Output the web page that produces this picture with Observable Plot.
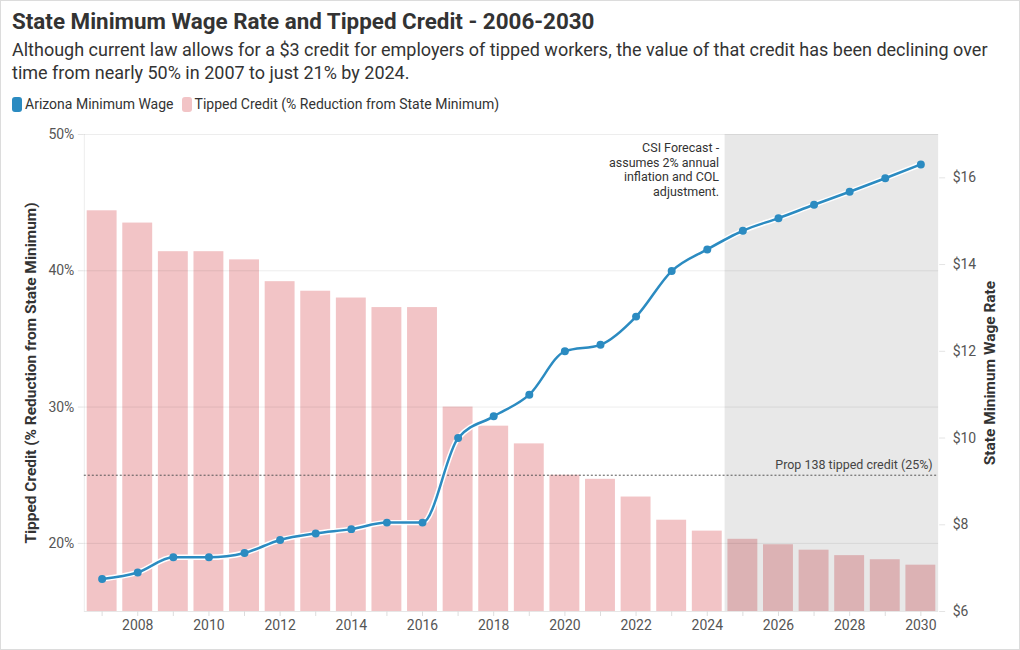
<!DOCTYPE html>
<html>
<head>
<meta charset="utf-8">
<script src="https://cdn.jsdelivr.net/npm/d3@7"></script>
<script src="https://cdn.jsdelivr.net/npm/@observablehq/plot@0.6"></script>
<style>
  html, body { margin: 0; padding: 0; background: #fff; }
  body { font-family: Roboto, "Noto Sans", sans-serif; }
  #frame { position: relative; width: 1018px; height: 648px; border: 1px solid #dcdcdc; overflow: hidden; }
  #title { position: absolute; left: 11px; top: 7px; font-size: 22.4px; font-weight: 700; color: #333; white-space: nowrap; }
  #subtitle { position: absolute; left: 11px; top: 37px; font-size: 18px; line-height: 23px; color: #333; white-space: nowrap; }
  #legend { position: absolute; left: 11px; top: 95px; font-size: 14px; color: #333; display: flex; align-items: center; white-space: nowrap; }
  .sw { display: inline-block; width: 10px; height: 15px; border-radius: 3px; margin-right: 3px; }
  .item { display: inline-flex; align-items: center; margin-right: 8px; }
  #chart { position: absolute; left: 0; top: 118px; }
</style>
</head>
<body>
<div id="frame">
  <div id="title">State Minimum Wage Rate and Tipped Credit - 2006-2030</div>
  <div id="subtitle">Although current law allows for a $3 credit for employers of tipped workers, the value of that credit has been declining over<br>time from nearly 50% in 2007 to just 21% by 2024.</div>
  <div id="legend">
    <span class="item"><span class="sw" style="background:#2b8bc1"></span>Arizona Minimum Wage</span>
    <span class="item"><span class="sw" style="background:#f2c4c6"></span>Tipped Credit (% Reduction from State Minimum)</span>
  </div>
  <div id="chart"></div>
</div>
<script>
const years = [2007,2008,2009,2010,2011,2012,2013,2014,2015,2016,2017,2018,2019,2020,2021,2022,2023,2024,2025,2026,2027,2028,2029,2030];
const minimumWage = [6.75,6.90,7.25,7.25,7.35,7.65,7.80,7.90,8.05,8.05,10.00,10.50,11.00,12.00,12.15,12.80,13.85,14.35,14.78,15.07,15.38,15.68,15.99,16.31];
const tippedCredit = [44.4,43.5,41.4,41.4,40.8,39.2,38.5,38.0,37.3,37.3,30.0,28.6,27.3,25.0,24.7,23.4,21.7,20.9,20.3,19.9,19.5,19.1,18.8,18.4];
const pctTicks = [20,30,40,50];
const wageTicks = [6,8,10,12,14,16];
const evenYears = [2008,2010,2012,2014,2016,2018,2020,2022,2024,2026,2028,2030];
const prop138 = 25;
const forecastStart = 2024.5;
const forecastNote = "CSI Forecast -\nassumes 2% annual\ninflation and COL\nadjustment.";
const prop138Label = "Prop 138 tipped credit (25%)";

const P0 = 15, P1 = 50, W0 = 6, W1 = 17;
const toP = w => P0 + (w - W0) * (P1 - P0) / (W1 - W0);
const toW = p => W0 + (p - P0) * (W1 - W0) / (P1 - P0);

const data = years.map((y, i) => ({year: y, wage: minimumWage[i], credit: tippedCredit[i]}));
const X0 = 2006.5, X1 = 2030.5;
const blue = "#2b8bc1", pink = "#f2c4c6", tickCol = "#555";

const chart = Plot.plot({
  width: 1020,
  height: 523,
  marginTop: 15,
  marginBottom: 30,
  marginLeft: 83,
  marginRight: 81,
  style: {fontFamily: "Roboto, sans-serif", fontSize: "14px", background: "transparent"},
  x: {domain: [X0, X1]},
  y: {domain: [P0, P1]},
  marks: [
    Plot.rectY(data, {x1: d => d.year - 0.42, x2: d => d.year + 0.42, y1: P0, y2: "credit", fill: pink}),
    Plot.rect([0], {x1: forecastStart, x2: X1, y1: P0, y2: P1, fill: "#000", fillOpacity: 0.09}),
    Plot.ruleY(pctTicks, {x1: X0, x2: X1, stroke: "#000", strokeOpacity: 0.08}),
    Plot.ruleX([X0], {y1: P0, y2: P1, stroke: "#000", strokeOpacity: 0.08}),
    Plot.ruleY([P0], {x1: X0, x2: X1, stroke: "#000", strokeOpacity: 0.1}),
    Plot.axisY(pctTicks, {anchor: "left", tickFormat: d => d + "%", tickSize: 6, tickPadding: 4, stroke: "#e4e4e4", fill: tickCol, label: null, fontSize: 14}),
    Plot.axisY(wageTicks.map(toP), {anchor: "right", tickFormat: d => "$" + Math.round(toW(d)), tickSize: 6, tickPadding: 8, stroke: "#e4e4e4", fill: tickCol, label: null, fontSize: 14}),
    Plot.axisX(years, {anchor: "bottom", tickSize: 5, tickFormat: () => "", stroke: "#ddd", label: null}),
    Plot.axisX(evenYears, {anchor: "bottom", tickSize: 0, tickPadding: 9, tickFormat: d => String(d), fill: tickCol, label: null, fontSize: 14}),
    Plot.ruleY([prop138], {x1: X0, x2: X1, stroke: "#555", strokeDasharray: "2,2", strokeWidth: 1}),
    Plot.text([prop138Label], {x: X1, y: prop138, dx: -6, dy: -10, textAnchor: "end", fill: "#444", fontSize: 12.5}),
    Plot.text([forecastNote], {x: forecastStart, y: P1, dx: -6, dy: 7, textAnchor: "end", lineAnchor: "top", lineHeight: 1.18, fill: "#333", fontSize: 12.5}),
    Plot.line(data, {x: "year", y: d => toP(d.wage), curve: "monotone-x", stroke: "#fff", strokeWidth: 5.5}),
    Plot.line(data, {x: "year", y: d => toP(d.wage), curve: "monotone-x", stroke: blue, strokeWidth: 2.5}),
    Plot.dot(data, {x: "year", y: d => toP(d.wage), r: 4, fill: blue, stroke: "none"}),
    Plot.text(["Tipped Credit (% Reduction from State Minimum)"], {frameAnchor: "left", textAnchor: "middle", dx: -53, rotate: -90, fontWeight: 700, fontSize: 15.5, fill: "#333"}),
    Plot.text(["State Minimum Wage Rate"], {frameAnchor: "right", textAnchor: "middle", dx: 51, rotate: -90, fontWeight: 700, fontSize: 15.5, fill: "#333"})
  ]
});
document.getElementById("chart").appendChild(chart);
</script>
</body>
</html>
